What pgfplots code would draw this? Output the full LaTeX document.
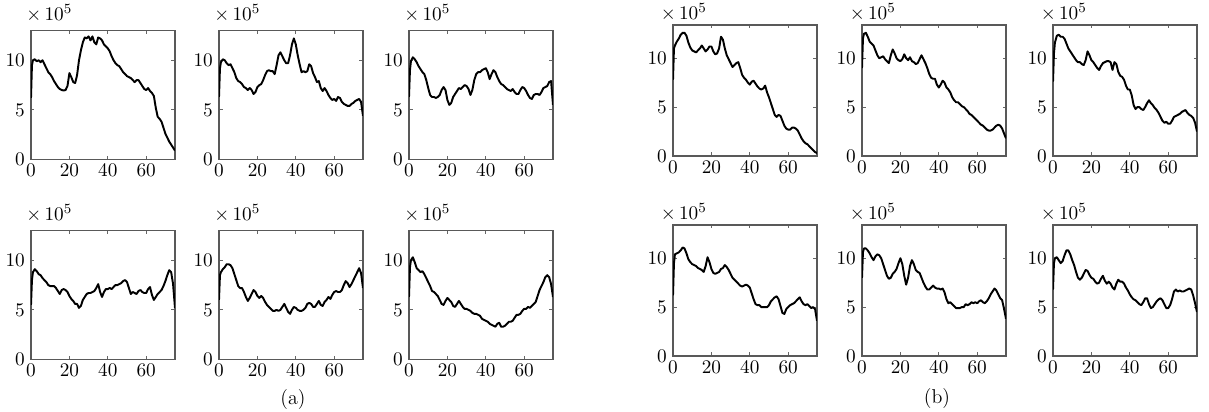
\documentclass[border=0pt]{standalone}
\usepackage{pgfplots}
\usepackage{pgfplotstable}
\pgfplotsset{compat=1.18}

\pgfplotstableread{
x a1 a2 a3 a4 a5 a6 b1 b2 b3 b4 b5 b6
0 6.2 6.3 6.3 5.5 6.0 6.3 7.8 9.0 7.6 6.2 8.0 6.8
0.5 9.5 9.2 9.0 8.0 8.5 9.3 11.0 12.0 10.5 9.5 10.6 9.5
1 10.0 9.8 9.9 8.8 8.8 10.0 11.3 12.5 11.6 10.4 11.0 10.0
2 10.1 10.1 10.3 9.1 9.1 10.3 11.7 12.6 12.3 10.5 11.0 10.1
3 9.9 10.0 10.1 8.9 9.3 9.8 12.0 12.2 12.4 10.6 10.8 9.8
4 10.0 9.7 9.8 8.6 9.6 9.2 12.4 11.7 12.2 10.8 10.5 9.5
5 9.8 9.5 9.4 8.5 9.6 9.0 12.6 11.5 12.2 11.1 10.1 9.7
6 10.0 9.6 9.1 8.2 9.5 8.8 12.6 11.3 12.0 11.0 9.8 10.3
7 9.6 9.2 8.8 8.0 9.2 8.9 12.3 10.8 11.5 10.5 10.2 10.8
8 9.2 8.8 8.6 7.8 8.6 8.6 11.6 10.3 11.0 9.9 10.4 10.8
9 8.8 8.2 8.0 7.5 8.0 8.2 11.1 10.0 10.7 9.6 10.3 10.4
10 8.6 7.9 7.2 7.4 7.4 7.8 10.8 10.1 10.4 9.4 10.0 9.8
11 8.3 7.8 6.5 7.4 7.2 7.4 10.7 10.2 10.1 9.3 9.4 9.3
12 7.9 7.6 6.3 7.4 7.2 6.9 10.6 9.9 9.8 9.2 8.8 8.6
13 7.6 7.3 6.3 7.2 6.8 6.8 10.8 9.7 9.6 9.0 8.2 8.0
14 7.3 7.2 6.2 6.9 6.3 6.6 11.0 9.5 9.6 8.9 7.9 7.8
15 7.1 7.0 6.3 6.6 5.9 6.4 11.3 10.3 9.4 8.8 8.0 8.0
16 7.0 7.2 6.5 7.0 6.2 6.0 11.0 10.9 9.3 8.6 8.4 8.4
17 6.95 7.0 7.0 7.1 6.6 5.6 10.7 10.5 9.8 9.2 8.6 8.8
18 7.0 6.6 7.3 7.0 7.0 5.5 10.9 10.0 10.7 10.1 8.9 8.7
19 7.4 6.8 7.0 6.8 6.8 5.9 11.2 9.8 10.3 9.6 9.5 8.3
20 8.7 7.3 6.0 6.4 6.4 6.2 11.2 9.7 9.8 8.9 10.0 8.0
21 8.3 7.5 5.5 6.1 6.2 6.0 10.7 9.9 9.6 8.5 9.4 7.9
22 7.8 7.6 5.7 5.9 6.4 5.8 10.4 10.4 9.3 8.4 8.2 7.6
23 7.7 8.0 6.3 5.6 6.2 5.4 10.5 10.0 9.0 8.5 7.3 7.4
24 8.5 8.5 6.6 5.6 5.8 5.3 11.0 9.8 8.8 8.6 8.0 7.5
25 10.0 8.9 6.9 5.2 5.5 5.6 12.2 10.1 9.2 8.9 9.2 7.9
26 11.0 9.0 7.2 5.4 5.3 5.9 11.9 9.7 9.5 9.0 9.8 8.2
27 11.8 8.9 7.1 6.0 5.1 5.6 11.0 9.6 9.6 9.3 9.4 7.7
28 12.3 8.9 7.3 6.3 4.9 5.3 10.3 9.4 9.7 9.1 8.8 7.4
29 12.2 8.6 7.5 6.6 4.9 5.1 9.9 9.5 9.7 8.8 8.6 7.6
30 12.4 9.5 7.4 6.7 5.0 5.1 9.5 9.9 9.6 8.4 8.5 7.4
31 12.0 10.5 7.1 6.7 4.9 5.0 9.1 10.3 8.8 8.0 8.0 7.0
32 12.4 10.8 6.5 6.8 5.0 4.9 9.3 9.9 9.6 7.8 7.5 6.8
33 11.8 10.4 7.0 6.9 5.3 4.7 9.5 9.5 9.4 7.6 7.1 7.4
34 11.6 10.0 8.0 7.2 5.6 4.6 9.6 9.0 8.6 7.4 6.8 7.8
35 12.3 9.7 8.6 7.6 5.2 4.6 9.0 8.4 8.2 7.2 6.8 7.6
36 12.2 9.7 8.8 6.8 4.8 4.5 8.3 8.0 8.1 7.1 7.0 7.6
37 12.0 10.5 8.8 6.3 4.6 4.4 8.0 7.9 7.8 7.2 7.2 7.4
38 11.6 11.6 9.0 6.8 5.0 4.1 7.8 7.9 7.2 7.3 7.0 7.0
39 11.4 12.2 9.1 7.1 5.3 4.0 7.5 7.3 6.8 7.2 6.9 6.7
40 11.2 11.6 9.2 7.1 5.2 3.9 7.3 7.0 6.8 7.0 6.9 6.3
41 10.9 10.5 8.8 7.2 5.0 3.8 7.6 7.3 6.2 6.4 6.8 6.0
42 10.4 9.6 8.1 7.1 4.9 3.6 7.7 7.7 5.2 5.8 6.9 5.8
43 10.0 8.8 8.6 7.3 4.9 3.5 7.4 7.5 4.8 5.3 6.5 5.7
44 9.7 8.9 9.0 7.5 5.0 3.4 7.1 7.0 5.0 5.2 5.8 5.5
45 9.5 8.8 8.8 7.5 5.2 3.3 6.9 6.8 5.0 5.2 5.4 5.3
46 9.4 8.9 8.3 7.6 5.6 3.6 6.8 6.5 4.8 5.0 5.5 5.2
47 9.1 9.6 7.9 7.7 5.7 3.7 6.9 6.0 4.7 5.0 5.3 5.5
48 8.8 9.4 7.6 7.9 5.6 3.3 7.2 5.7 5.0 5.0 5.1 5.9
49 8.6 8.7 7.5 8.0 5.3 3.3 6.5 5.5 5.4 5.0 4.9 5.9
50 8.4 8.3 7.3 7.8 5.3 3.4 6.0 5.5 5.7 5.2 4.9 5.3
51 8.3 7.8 7.1 7.2 5.6 3.6 5.4 5.3 5.4 5.6 4.9 4.9
52 8.2 7.9 7.0 6.6 5.9 3.8 4.8 5.1 5.2 5.8 5.0 5.0
53 8.0 7.2 6.9 6.8 5.5 3.8 4.2 5.0 4.9 6.0 5.0 5.3
54 7.8 6.9 7.1 6.7 5.4 3.9 4.0 4.8 4.7 6.1 5.3 5.6
55 8.0 7.2 6.8 6.6 5.8 4.2 4.2 4.6 4.4 5.8 5.2 5.8
56 8.0 6.9 6.6 6.9 6.0 4.5 4.1 4.3 4.0 5.1 5.3 5.9
57 7.7 6.5 6.6 7.0 6.3 4.5 3.6 4.2 3.6 4.4 5.5 5.7
58 7.4 6.2 7.0 6.8 6.1 4.6 3.1 4.0 3.4 4.3 5.4 5.3
59 7.1 6.0 7.3 6.7 6.5 4.9 2.8 3.8 3.5 4.8 5.5 4.9
60 7.0 6.1 7.2 6.7 6.8 5.1 2.7 3.6 3.3 5.0 5.4 4.9
61 7.2 5.9 6.9 7.1 6.9 5.1 2.7 3.4 3.3 5.2 5.6 5.2
62 6.9 6.3 6.5 7.3 6.8 5.3 2.9 3.2 3.6 5.3 5.7 5.8
63 6.7 6.2 6.2 6.5 6.8 5.2 2.9 3.1 4.0 5.4 5.5 6.6
64 6.4 5.8 6.1 6.0 7.0 5.4 2.8 2.9 4.1 5.6 5.4 6.8
65 5.2 5.6 6.5 6.3 7.5 5.6 2.6 2.7 4.2 5.8 5.6 6.6
66 4.3 5.5 6.6 6.6 7.9 5.8 2.2 2.6 4.3 6.0 5.9 6.7
67 4.1 5.4 6.6 6.8 7.7 6.4 1.8 2.6 4.5 5.6 6.3 6.6
68 3.8 5.4 6.5 7.0 7.3 7.0 1.5 2.7 4.6 5.3 6.6 6.6
69 3.2 5.6 6.8 7.4 7.6 7.4 1.3 2.9 4.7 5.2 6.9 6.7
70 2.6 5.7 7.2 7.9 8.0 7.8 1.2 3.1 4.4 5.3 6.7 6.8
71 2.2 5.9 7.3 8.5 8.4 8.3 1.0 3.2 4.2 5.1 6.3 6.9
72 1.8 6.0 7.4 9.0 8.8 8.5 0.8 3.1 4.1 4.9 5.9 6.8
73 1.5 6.1 7.8 8.8 9.2 8.3 0.6 2.8 3.9 5.0 5.7 6.2
74 1.2 5.8 7.9 7.6 8.7 7.6 0.4 2.3 3.4 4.8 4.8 5.4
75 0.9 4.4 5.5 5.2 7.2 6.3 0.3 1.8 2.5 3.6 3.8 4.5
}\data

\newcommand{\fs}{\fontsize{11.4}{13}\selectfont}

\pgfplotsset{
  panel/.style={
    scale only axis, width=2.88cm, anchor=south west,
    xmin=0, xmax=75, ymin=0,
    xtick={0,20,40,60}, ytick={0,5,10},
    tick align=inside, major tick length=0.07cm,
    axis line style={draw=black!65, line width=0.8pt},
    every tick/.style={draw=black!60, line width=0.5pt},
    tick label style={font=\fs},
    xticklabel style={yshift=0.03cm},
  },
  pa/.style={panel, height=2.58cm, ymax=13,
    after end axis/.code={\node[anchor=south west, inner sep=0pt, font=\fs, xshift=-0.1cm, yshift=0.16cm] at (rel axis cs:0,1) {$\times\,10^{5}$};}},
  pb/.style={panel, height=2.62cm, ymax=13.4,
    after end axis/.code={\node[anchor=south west, inner sep=0pt, font=\fs, xshift=-0.25cm, yshift=0.07cm] at (rel axis cs:0,1) {$\times\,10^{5}$};}},
  curve/.style={black, line width=1.1pt, line join=round, no markers},
}

\begin{document}
\begin{tikzpicture}
\path[use as bounding box] (0,0) rectangle (24.18cm,8.24cm);
% (a) top row
\begin{axis}[pa, at={(0.62cm,5.05cm)}]
\addplot[curve] table[x=x,y=a1] {\data};
\end{axis}
\begin{axis}[pa, at={(4.38cm,5.05cm)}]
\addplot[curve] table[x=x,y=a2] {\data};
\end{axis}
\begin{axis}[pa, at={(8.18cm,5.05cm)}]
\addplot[curve] table[x=x,y=a3] {\data};
\end{axis}
% (a) bottom row
\begin{axis}[pa, at={(0.62cm,1.05cm)}]
\addplot[curve] table[x=x,y=a4] {\data};
\end{axis}
\begin{axis}[pa, at={(4.38cm,1.05cm)}]
\addplot[curve] table[x=x,y=a5] {\data};
\end{axis}
\begin{axis}[pa, at={(8.18cm,1.05cm)}]
\addplot[curve] table[x=x,y=a6] {\data};
\end{axis}
% (b) top row
\begin{axis}[pb, at={(13.46cm,5.12cm)}]
\addplot[curve] table[x=x,y=b1] {\data};
\end{axis}
\begin{axis}[pb, at={(17.24cm,5.12cm)}]
\addplot[curve] table[x=x,y=b2] {\data};
\end{axis}
\begin{axis}[pb, at={(21.06cm,5.12cm)}]
\addplot[curve] table[x=x,y=b3] {\data};
\end{axis}
% (b) bottom row
\begin{axis}[pb, at={(13.46cm,1.12cm)}]
\addplot[curve] table[x=x,y=b4] {\data};
\end{axis}
\begin{axis}[pb, at={(17.24cm,1.12cm)}]
\addplot[curve] table[x=x,y=b5] {\data};
\end{axis}
\begin{axis}[pb, at={(21.06cm,1.12cm)}]
\addplot[curve] table[x=x,y=b6] {\data};
\end{axis}
\node[font=\fs] at (5.86cm,0.24cm) {(a)};
\node[font=\fs] at (18.74cm,0.26cm) {(b)};
\end{tikzpicture}
\end{document}
